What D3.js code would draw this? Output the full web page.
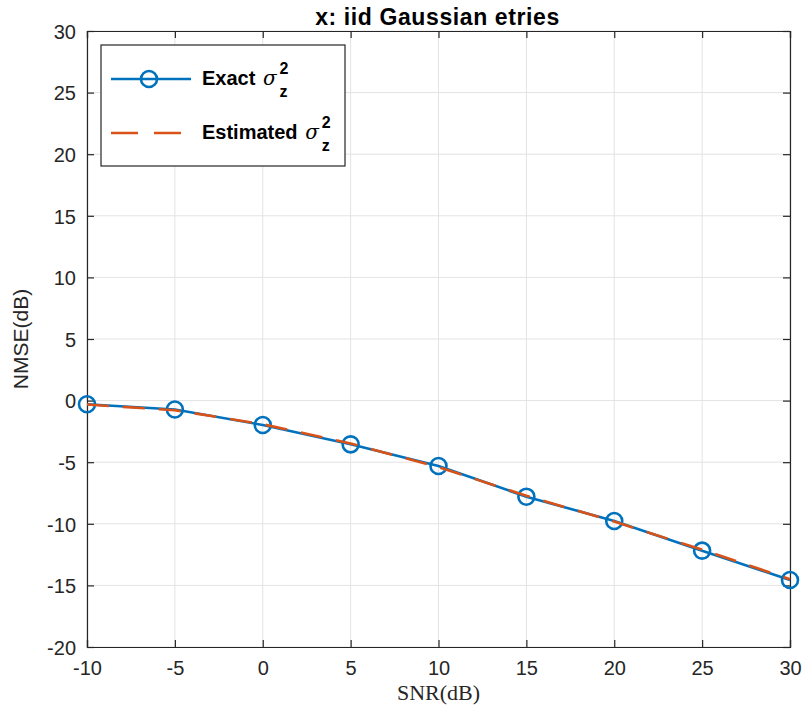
<!DOCTYPE html>
<html>
<head>
<meta charset="utf-8">
<script src="https://cdn.jsdelivr.net/npm/d3@7"></script>
<style>
  html, body { margin: 0; padding: 0; background: #fff; }
  svg { display: block; }
</style>
</head>
<body>
<svg id="chart" width="804" height="715"></svg>
<script>
const snr = [-10, -5, 0, 5, 10, 15, 20, 25, 30];
const exactNMSE = [-0.3, -0.72, -1.98, -3.55, -5.31, -7.8, -9.77, -12.18, -14.56];
const estimatedNMSE = [-0.32, -0.78, -1.92, -3.48, -5.4, -7.72, -9.82, -12.1, -14.5];
const xTicks = [-10, -5, 0, 5, 10, 15, 20, 25, 30];
const yTicks = [-20, -15, -10, -5, 0, 5, 10, 15, 20, 25, 30];
const titleText = "x: iid Gaussian etries";
const xLabel = "SNR(dB)";
const yLabel = "NMSE(dB)";
const legendNames = ["Exact", "Estimated"];

const svg = d3.select("#chart");
const L = 87, R = 790, T = 31, B = 647;
const x = d3.scaleLinear().domain([-10, 30]).range([L, R]);
const y = d3.scaleLinear().domain([-20, 30]).range([B, T]);
const axisColor = "#262626";
const blue = "#0072BD", orange = "#D95319";
const sans = "'Liberation Sans', Arial, Helvetica, sans-serif";
const fmt = d => String(d);

// grid
const grid = svg.append("g");
grid.selectAll("line.gx").data(xTicks).join("line")
  .attr("x1", d => x(d)).attr("x2", d => x(d)).attr("y1", T).attr("y2", B)
  .attr("stroke", "#e3e3e3").attr("stroke-width", 1);
grid.selectAll("line.gy").data(yTicks).join("line")
  .attr("y1", d => y(d)).attr("y2", d => y(d)).attr("x1", L).attr("x2", R)
  .attr("stroke", "#e3e3e3").attr("stroke-width", 1);

// axes
const tickLen = 7;
const gx = svg.append("g").attr("transform", `translate(0,${B})`)
  .call(d3.axisBottom(x).tickValues(xTicks).tickSize(-tickLen).tickPadding(14).tickFormat(fmt));
const gxTop = svg.append("g").attr("transform", `translate(0,${T})`)
  .call(d3.axisTop(x).tickValues(xTicks).tickSize(-tickLen).tickFormat(""));
const gy = svg.append("g").attr("transform", `translate(${L},0)`)
  .call(d3.axisLeft(y).tickValues(yTicks).tickSize(-tickLen).tickPadding(11).tickFormat(fmt));
const gyR = svg.append("g").attr("transform", `translate(${R},0)`)
  .call(d3.axisRight(y).tickValues(yTicks).tickSize(-tickLen).tickFormat(""));
[gx, gxTop, gy, gyR].forEach(g => {
  g.select(".domain").attr("stroke", axisColor).attr("stroke-width", 1.2);
  g.selectAll(".tick line").attr("stroke", axisColor).attr("stroke-width", 1.2);
  g.selectAll(".tick text").attr("fill", axisColor).attr("font-family", sans).attr("font-size", 20);
});
gx.selectAll(".tick text").attr("dy", "0.71em");
gy.selectAll(".tick text").attr("dy", "0.36em");

// lines
const line = d3.line().x(d => x(d[0])).y(d => y(d[1]));
const exactData = snr.map((s, i) => [s, exactNMSE[i]]);
const estData = snr.map((s, i) => [s, estimatedNMSE[i]]);
svg.append("path").datum(exactData).attr("d", line)
  .attr("fill", "none").attr("stroke", blue).attr("stroke-width", 2.6);
svg.selectAll("circle.pt").data(exactData).join("circle")
  .attr("cx", d => x(d[0])).attr("cy", d => y(d[1])).attr("r", 8)
  .attr("fill", "none").attr("stroke", blue).attr("stroke-width", 2.6);
svg.append("path").datum(estData).attr("d", line)
  .attr("fill", "none").attr("stroke", orange).attr("stroke-width", 2.6)
  .attr("stroke-dasharray", "22,14");

// title
svg.append("text").attr("x", (L + R) / 2 - 1).attr("y", 25).attr("text-anchor", "middle")
  .attr("font-family", sans).attr("font-weight", "bold").attr("font-size", 23)
  .attr("letter-spacing", 0.6)
  .attr("fill", "#000").text(titleText);

// axis labels
svg.append("text").attr("x", (L + R) / 2).attr("y", 700).attr("text-anchor", "middle")
  .attr("font-family", "'Liberation Serif', 'DejaVu Serif', serif").attr("font-size", 22)
  .attr("fill", axisColor).text(xLabel);
svg.append("text").attr("transform", `translate(28,${(T + B) / 2}) rotate(-90)`)
  .attr("text-anchor", "middle").attr("font-family", sans).attr("font-size", 21)
  .attr("fill", axisColor).text(yLabel);

// legend
const lg = svg.append("g");
lg.append("rect").attr("x", 101).attr("y", 45).attr("width", 244).attr("height", 121)
  .attr("fill", "#fff").attr("stroke", axisColor).attr("stroke-width", 1.2);
const rows = [{ y: 79, base: 85, name: legendNames[0] }, { y: 133, base: 139, name: legendNames[1] }];
lg.append("line").attr("x1", 111).attr("x2", 191).attr("y1", rows[0].y).attr("y2", rows[0].y)
  .attr("stroke", blue).attr("stroke-width", 2.6);
lg.append("circle").attr("cx", 149).attr("cy", rows[0].y).attr("r", 8)
  .attr("fill", "none").attr("stroke", blue).attr("stroke-width", 2.6);
lg.append("line").attr("x1", 111).attr("x2", 191).attr("y1", rows[1].y).attr("y2", rows[1].y)
  .attr("stroke", orange).attr("stroke-width", 2.6).attr("stroke-dasharray", "27,16");
rows.forEach(r => {
  const t = lg.append("text").attr("x", 202).attr("y", r.base)
    .attr("font-family", sans).attr("font-weight", "bold").attr("font-size", 20).attr("fill", "#000");
  t.append("tspan").text(r.name + " ");
  t.append("tspan").attr("dx", 2).attr("font-family", "'DejaVu Serif', 'Liberation Serif', serif")
    .attr("font-style", "italic").attr("font-weight", "normal").attr("font-size", 20).text("σ");
  t.append("tspan").attr("dx", 3).attr("dy", -11).attr("font-size", 16).text("2");
  t.append("tspan").attr("dx", -9).attr("dy", 23).attr("font-size", 16).text("z");
});
</script>
</body>
</html>
